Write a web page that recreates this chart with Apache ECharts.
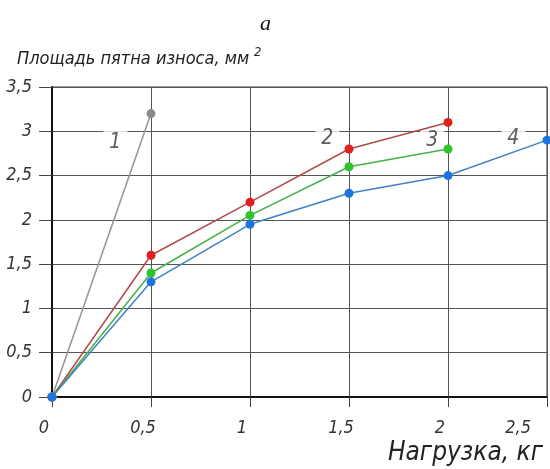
<!DOCTYPE html>
<html><head><meta charset="utf-8">
<script src="https://cdn.jsdelivr.net/npm/echarts@6/dist/echarts.min.js"></script>
<style>html,body{margin:0;padding:0;background:#fff}#c{width:550px;height:469px}</style>
</head><body><div id="c"></div>
<script>
// Data
const xTicks = [0, 0.5, 1, 1.5, 2, 2.5];
const yTicks = [0, 0.5, 1, 1.5, 2, 2.5, 3, 3.5];
const curve1 = [[0, 0], [0.5, 3.2]];
const curve2 = [[0, 0], [0.5, 1.6], [1, 2.2], [1.5, 2.8], [2, 3.1]];
const curve3 = [[0, 0], [0.5, 1.4], [1, 2.05], [1.5, 2.6], [2, 2.8]];
const curve4 = [[0, 0], [0.5, 1.3], [1, 1.95], [1.5, 2.3], [2, 2.5], [2.5, 2.9]];
const curveNames = ['1', '2', '3', '4'];
const curveLabelAt = [[0.32, 2.87], [1.39, 2.92], [1.92, 2.9], [2.33, 2.92]];
const xTitle = 'Нагрузка, кг';
const yTitle = 'Площадь пятна износа, мм';
const panel = 'a';

const FONT = '"Liberation Sans Narrow", "DejaVu Sans Condensed", sans-serif';
const fmt = v => String(v).replace('.', ',');
const chart = echarts.init(document.getElementById('c'));

function line(data, lineColor, dotColor) {
  return {
    type: 'line', data: data, symbol: 'circle', symbolSize: 9,
    lineStyle: {color: lineColor, width: 1.5},
    itemStyle: {color: dotColor},
    z: 5, animation: false
  };
}

chart.setOption({
  animation: false,
  backgroundColor: '#fff',
  title: [
    {text: panel, left: 255, top: 8,
     textStyle: {fontFamily: 'Liberation Serif, serif', fontStyle: 'italic', fontWeight: 'normal', fontSize: 22, color: '#111'}},
    {text: yTitle + '{s|2}', left: 12, top: 41,
     textStyle: {fontFamily: FONT, fontStyle: 'italic', fontWeight: 'normal', fontSize: 18, color: '#222',
       rich: {s: {fontFamily: FONT, fontStyle: 'italic', fontSize: 13, color: '#222', verticalAlign: 'top', padding: [0, 0, 14, 5]}}}}
  ],
  graphic: [
    {type: 'text', right: 7, top: 440, z: 10,
     style: {text: xTitle, font: 'italic 26px ' + FONT, fill: '#222'}}
  ],
  grid: {left: 52, right: 3, top: 87, bottom: 72, outerBoundsMode: 'none', containLabel: false,
         show: true, borderColor: '#333', borderWidth: 1},
  xAxis: {
    type: 'value', min: xTicks[0], max: xTicks[xTicks.length - 1], interval: 0.5,
    axisLine: {show: true, lineStyle: {color: '#111', width: 2}},
    axisTick: {show: true, length: 10, lineStyle: {color: '#444'}},
    splitLine: {show: true, lineStyle: {color: '#555', width: 1}},
    axisLabel: {formatter: fmt, margin: 22, padding: [0, 16, 0, 0], alignMaxLabel: 'right',
      fontFamily: FONT, fontStyle: 'italic', fontSize: 18, color: '#333'}
  },
  yAxis: {
    type: 'value', min: yTicks[0], max: yTicks[yTicks.length - 1], interval: 0.5,
    axisLine: {show: true, lineStyle: {color: '#111', width: 2}},
    axisTick: {show: true, length: 13, lineStyle: {color: '#444'}},
    splitLine: {show: true, lineStyle: {color: '#555', width: 1}},
    axisLabel: {formatter: fmt, margin: 20, fontFamily: FONT, fontStyle: 'italic', fontSize: 18, color: '#333'}
  },
  series: [
    line(curve1, '#939393', '#8a8a8a'),
    line(curve2, '#b24a4a', '#e01f1f'),
    line(curve3, '#45b045', '#2ec42e'),
    line(curve4, '#3f82c4', '#1d74e0'),
    {
      type: 'scatter', symbolSize: 2, itemStyle: {color: 'rgba(0,0,0,0)'}, z: 4, animation: false,
      data: curveLabelAt.map((p, i) => ({value: p, name: curveNames[i]})),
      label: {show: true, position: 'inside', formatter: p => p.name,
        fontFamily: FONT, fontStyle: 'italic', fontSize: 21, color: '#333',
        backgroundColor: '#fff', padding: [2, 6]}
    }
  ]
});
</script></body></html>
